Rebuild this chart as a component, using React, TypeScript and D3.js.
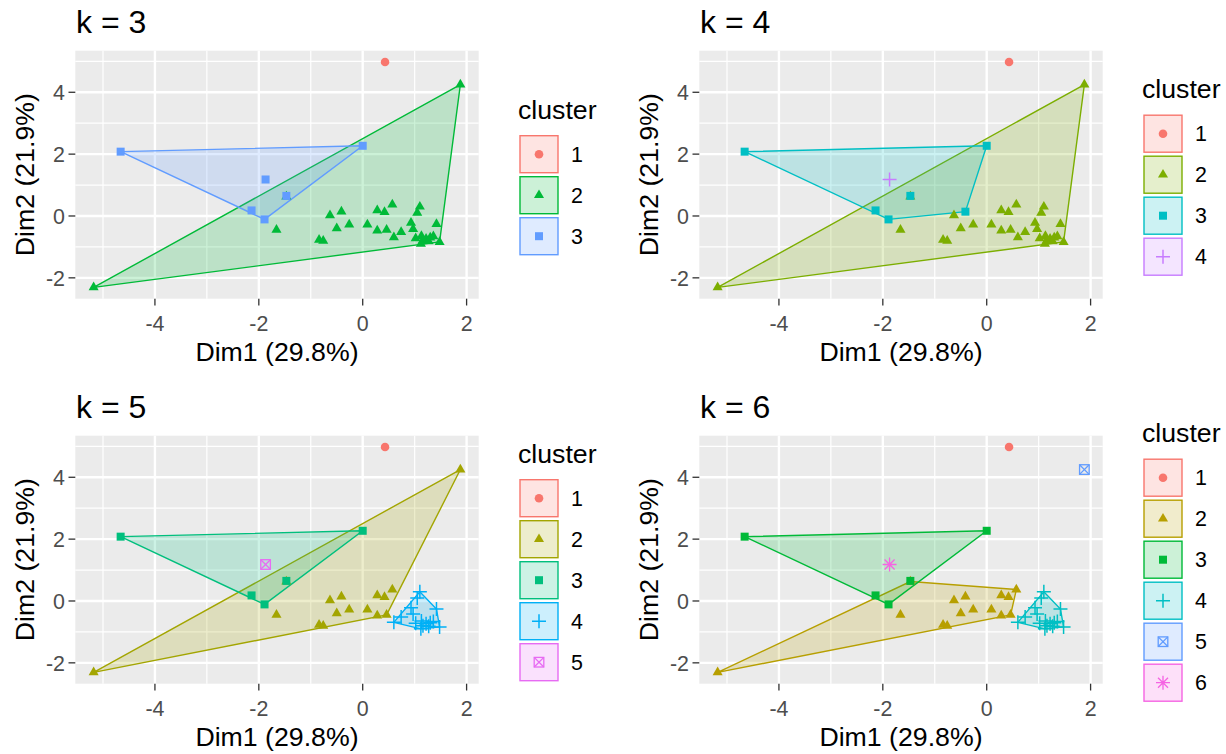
import React from 'react';
import * as d3 from 'd3';

// PCA coordinates of the observations (index 4 lies under the square at index 5)
const dim1 = [
  0.43, -4.66, 0.0, -1.87, -1.47, -1.47, -2.14, -1.89, -0.41, 1.88, -5.18,
  -1.66, -0.84, -0.76, -0.63, -0.5, -0.26, 0.09, 0.28, 0.42, 0.57,
  0.28, 0.46,
  1.1, 1.05, 0.93, 1.42, 0.97, 0.74, 0.6, 1.13, 1.16, 1.22, 1.3, 1.36, 1.48, 1.12, 1.27, 1.02,
];
const dim2 = [
  4.98, 2.08, 2.27, 1.18, 0.63, 0.65, 0.18, -0.11, 0.14, 4.25, -2.31,
  -0.45, -0.77, -0.8, 0.02, -0.4, -0.28, -0.28, 0.18, 0.13, 0.37,
  -0.47, -0.45,
  0.3, 0.1, -0.22, -0.26, -0.42, -0.52, -0.69, -0.65, -0.8, -0.74, -0.7, -0.66, -0.84, -0.9, -0.82, -0.72,
];
const clusterK3 = [
  1, 3, 3, 3, 2, 3, 3, 3, 2, 2, 2,
  2, 2, 2, 2, 2, 2, 2, 2, 2, 2,
  2, 2,
  2, 2, 2, 2, 2, 2, 2, 2, 2, 2, 2, 2, 2, 2, 2, 2,
];
const clusterK4 = [
  1, 3, 3, 4, 2, 3, 3, 3, 3, 2, 2,
  2, 2, 2, 2, 2, 2, 2, 2, 2, 2,
  2, 2,
  2, 2, 2, 2, 2, 2, 2, 2, 2, 2, 2, 2, 2, 2, 2, 2,
];
const clusterK5 = [
  1, 3, 3, 5, 2, 3, 3, 3, 2, 2, 2,
  2, 2, 2, 2, 2, 2, 2, 2, 2, 2,
  2, 2,
  4, 4, 4, 4, 4, 4, 4, 4, 4, 4, 4, 4, 4, 4, 4, 4,
];
const clusterK6 = [
  1, 3, 3, 6, 2, 3, 3, 3, 2, 5, 2,
  2, 2, 2, 2, 2, 2, 2, 2, 2, 2,
  2, 2,
  4, 4, 4, 4, 4, 4, 4, 4, 4, 4, 4, 4, 4, 4, 4, 4,
];
const kValues = [3, 4, 5, 6];
const assignments = [clusterK3, clusterK4, clusterK5, clusterK6];
const palette3 = ['#F8766D', '#00BA38', '#619CFF'];
const palette4 = ['#F8766D', '#7CAE00', '#00BFC4', '#C77CFF'];
const palette5 = ['#F8766D', '#A3A500', '#00BF7D', '#00B0F6', '#E76BF3'];
const palette6 = ['#F8766D', '#B79F00', '#00BA38', '#00BFC4', '#619CFF', '#F564E3'];
const palettes = [palette3, palette4, palette5, palette6];
const shapes = ['circle', 'triangle', 'square', 'plus', 'boxcross', 'asterisk'];
const xTicks = [-4, -2, 0, 2];
const yTicks = [-2, 0, 2, 4];
const xMinor = [-5, -3, -1, 1];
const yMinor = [-1, 1, 3, 5];
const xLabel = 'Dim1 (29.8%)';
const yLabel = 'Dim2 (21.9%)';
const legendTitle = 'cluster';

const FONT = '"Liberation Sans", Arial, sans-serif';
const cellOffsets = [[0, 0], [624, 0], [0, 385], [624, 385]];
const P = { left: 75.3, top: 50.7, width: 403.4, height: 248 };

function expand(ext: [number, number]): [number, number] {
  const r = ext[1] - ext[0];
  return [ext[0] - 0.05 * r, ext[1] + 0.05 * r];
}
const xDomain = expand(d3.extent(dim1) as [number, number]);
const yDomain = expand(d3.extent(dim2) as [number, number]);

function Marker({ shape, color, x, y }: { shape: string; color: string; x: number; y: number }) {
  const t = `translate(${x},${y})`;
  if (shape === 'circle') return <circle cx={x} cy={y} r={4.3} fill={color} />;
  if (shape === 'triangle')
    return <path transform={t} d={d3.symbol(d3.symbolTriangle, 44)() as string} fill={color} />;
  if (shape === 'square') return <rect x={x - 4} y={y - 4} width={8} height={8} fill={color} />;
  if (shape === 'plus')
    return <path transform={t} d="M-7,0H7M0,-7V7" stroke={color} strokeWidth={1.5} fill="none" />;
  if (shape === 'boxcross')
    return (
      <g transform={t} stroke={color} strokeWidth={1.3} fill="none">
        <rect x={-4.8} y={-4.8} width={9.6} height={9.6} />
        <path d="M-4.8,-4.8L4.8,4.8M-4.8,4.8L4.8,-4.8" />
      </g>
    );
  return (
    <path transform={t} d="M-7,0H7M0,-7V7M-5,-5L5,5M-5,5L5,-5" stroke={color} strokeWidth={1.3} fill="none" />
  );
}

function Panel({ idx }: { idx: number }) {
  const [ox, oy] = cellOffsets[idx];
  const k = kValues[idx];
  const cl = assignments[idx];
  const pal = palettes[idx];
  const x = d3.scaleLinear().domain(xDomain).range([P.left, P.left + P.width]);
  const y = d3.scaleLinear().domain(yDomain).range([P.top + P.height, P.top]);
  const clusters = d3.range(1, k + 1);
  const hulls = clusters.map((c) => {
    const pts: [number, number][] = dim1
      .map((v, i) => [x(v), y(dim2[i])] as [number, number])
      .filter((_, i) => cl[i] === c);
    return pts.length >= 3 ? d3.polygonHull(pts) : null;
  });
  const cy = P.top + P.height / 2;
  const keyTop = cy - (k * 41) / 2 + 22.5;
  const keyLeft = 520;
  return (
    <g transform={`translate(${ox},${oy})`}>
      <text x={76} y={33} fontSize={32} fontFamily={FONT} fill="#000">{`k = ${k}`}</text>
      <rect x={P.left} y={P.top} width={P.width} height={P.height} fill="#EBEBEB" />
      {xMinor.map((v) => (
        <line key={'xm' + v} x1={x(v)} x2={x(v)} y1={P.top} y2={P.top + P.height} stroke="#fff" strokeWidth={1.2} />
      ))}
      {yMinor.map((v) => (
        <line key={'ym' + v} x1={P.left} x2={P.left + P.width} y1={y(v)} y2={y(v)} stroke="#fff" strokeWidth={1.2} />
      ))}
      {xTicks.map((v) => (
        <line key={'xg' + v} x1={x(v)} x2={x(v)} y1={P.top} y2={P.top + P.height} stroke="#fff" strokeWidth={2.4} />
      ))}
      {yTicks.map((v) => (
        <line key={'yg' + v} x1={P.left} x2={P.left + P.width} y1={y(v)} y2={y(v)} stroke="#fff" strokeWidth={2.4} />
      ))}
      {hulls.map((h, i) =>
        h ? (
          <path
            key={'h' + i}
            d={'M' + h.map((p) => p.join(',')).join('L') + 'Z'}
            fill={pal[i]}
            fillOpacity={0.2}
            stroke={pal[i]}
            strokeWidth={1.4}
          />
        ) : null
      )}
      {dim1.map((v, i) => (
        <Marker key={'p' + i} shape={shapes[cl[i] - 1]} color={pal[cl[i] - 1]} x={x(v)} y={y(dim2[i])} />
      ))}
      {xTicks.map((v) => (
        <g key={'xt' + v}>
          <line x1={x(v)} x2={x(v)} y1={P.top + P.height} y2={P.top + P.height + 6.8} stroke="#333" strokeWidth={1.3} />
          <text x={x(v)} y={331} textAnchor="middle" fontSize={21.4} fontFamily={FONT} fill="#4D4D4D">{String(v)}</text>
        </g>
      ))}
      {yTicks.map((v) => (
        <g key={'yt' + v}>
          <line x1={P.left - 6.8} x2={P.left} y1={y(v)} y2={y(v)} stroke="#333" strokeWidth={1.3} />
          <text x={65} y={y(v)} dy="0.36em" textAnchor="end" fontSize={21.4} fontFamily={FONT} fill="#4D4D4D">{String(v)}</text>
        </g>
      ))}
      <text x={P.left + P.width / 2} y={361} textAnchor="middle" fontSize={26.7} fontFamily={FONT} fill="#000">{xLabel}</text>
      <text
        transform={`translate(34,${cy}) rotate(-90)`}
        textAnchor="middle"
        fontSize={26.7}
        fontFamily={FONT}
        fill="#000"
      >
        {yLabel}
      </text>
      <text x={518} y={keyTop - 17} fontSize={26.7} fontFamily={FONT} fill="#000">{legendTitle}</text>
      {clusters.map((c, i) => {
        const ty = keyTop + i * 41;
        return (
          <g key={'lg' + c}>
            <rect x={keyLeft} y={ty} width={38} height={37} fill={pal[i]} fillOpacity={0.2} stroke={pal[i]} strokeWidth={1.4} />
            <Marker shape={shapes[i]} color={pal[i]} x={keyLeft + 19} y={ty + 18.5} />
            <text x={571} y={ty + 18.5} dy="0.36em" fontSize={21.4} fontFamily={FONT} fill="#000">{String(c)}</text>
          </g>
        );
      })}
    </g>
  );
}

export default function App() {
  return (
    <svg
      width={1226}
      height={754}
      style={{ position: 'absolute', left: 0, top: 0, background: '#fff' }}
      xmlns="http://www.w3.org/2000/svg"
    >
      <rect width={1226} height={754} fill="#fff" />
      {kValues.map((_, i) => (
        <Panel key={i} idx={i} />
      ))}
    </svg>
  );
}
